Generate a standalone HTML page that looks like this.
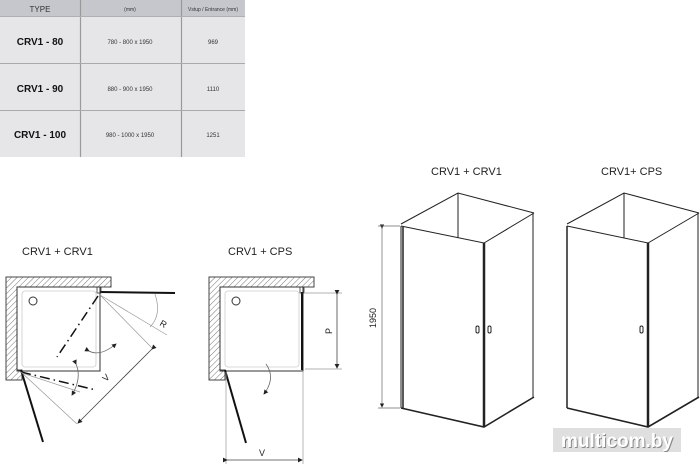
<!DOCTYPE html>
<html><head><style>
html,body{margin:0;padding:0;background:#fff;}
svg{display:block;}
text{font-family:"Liberation Sans",Arial,sans-serif;}
</style></head><body>
<svg width="700" height="464" viewBox="0 0 700 464" xmlns="http://www.w3.org/2000/svg">
<defs>
<pattern id="h" width="4" height="4" patternUnits="userSpaceOnUse" patternTransform="rotate(45)">
<rect width="4" height="4" fill="#fff"/><line x1="0" y1="0" x2="0" y2="4" stroke="#777" stroke-width="1"/>
</pattern>
<marker id="ar" markerWidth="6" markerHeight="6" refX="5" refY="3" orient="auto"><path d="M0,0 L6,3 L0,6z" fill="#222"/></marker>
</defs>
<!-- table -->
<rect x="0" y="0" width="245" height="157" fill="#e6e6e8"/>
<rect x="0" y="0" width="245" height="16" fill="#c5c7cd"/>
<g stroke="#9a9a9a" stroke-width="1.2">
<line x1="80.5" y1="0" x2="80.5" y2="157"/><line x1="181.5" y1="0" x2="181.5" y2="157"/>
</g>
<g stroke="#aaa" stroke-width="1">
<line x1="0" y1="63.5" x2="245" y2="63.5"/><line x1="0" y1="110.5" x2="245" y2="110.5"/><line x1="0" y1="16.5" x2="245" y2="16.5" stroke="#b0b0b4"/>
</g>
<g fill="#333" text-anchor="middle">
<text x="40" y="12" font-size="8">TYPE</text>
<text x="130" y="11" font-size="5">(mm)</text>
<text x="213" y="11" font-size="5">Vstup / Entrance (mm)</text>
<text x="40" y="45" font-size="10" font-weight="bold" fill="#111">CRV1 - 80</text>
<text x="40" y="92" font-size="10" font-weight="bold" fill="#111">CRV1 - 90</text>
<text x="40" y="138" font-size="10" font-weight="bold" fill="#111">CRV1 - 100</text>
<text x="130" y="44" font-size="6">780 - 800 x 1950</text>
<text x="130" y="91" font-size="6">880 - 900 x 1950</text>
<text x="130" y="137" font-size="6">980 - 1000 x 1950</text>
<text x="213" y="44" font-size="6">969</text>
<text x="213" y="91" font-size="6">1110</text>
<text x="213" y="137" font-size="6">1251</text>
</g>
<!-- plan labels -->
<text x="22" y="255" font-size="11" fill="#222">CRV1 + CRV1</text>
<text x="228" y="255" font-size="11" fill="#222">CRV1 + CPS</text>
<!-- plan 1 -->
<path d="M6,277 H111 V287 H17 V370 H22 V380 H6 Z" fill="url(#h)" stroke="#444" stroke-width="1"/>
<rect x="17" y="287" width="83" height="84" fill="none" stroke="#333" stroke-width="1"/>
<rect x="22" y="291" width="74" height="76" rx="3" fill="none" stroke="#ccc" stroke-width="0.8"/>
<circle cx="33" cy="301" r="4" fill="none" stroke="#333"/>
<line x1="100" y1="292" x2="175" y2="293" stroke="#111" stroke-width="2"/>
<rect x="97" y="287" width="4" height="6" fill="none" stroke="#333" stroke-width="0.8"/>
<line x1="21" y1="370" x2="43" y2="442" stroke="#111" stroke-width="2"/>
<g stroke="#111" stroke-width="1.5" stroke-dasharray="10,4,1.5,4">
<line x1="98" y1="296" x2="57" y2="357"/><line x1="21" y1="372" x2="96" y2="390"/>
</g>
<g stroke="#999" stroke-width="0.7" fill="none">
<line x1="100" y1="295" x2="167" y2="335"/><line x1="100" y1="295" x2="153" y2="349"/>
<line x1="21" y1="372" x2="77" y2="424"/><line x1="22" y1="373" x2="80" y2="392"/>
<path d="M155,294 Q162,315 150,327"/>
</g>
<line x1="152" y1="349" x2="78" y2="423" stroke="#444" stroke-width="0.8" marker-end="url(#ar)" marker-start="url(#ar)"/>
<path d="M89,351 Q100,357 116,344" fill="none" stroke="#666" stroke-width="0.8" marker-end="url(#ar)" marker-start="url(#ar)"/>
<path d="M76,364 Q82,378 72,395" fill="none" stroke="#666" stroke-width="0.8" marker-end="url(#ar)" marker-start="url(#ar)"/>
<text x="159" y="325" font-size="9" fill="#222" transform="rotate(30 159 325)">R</text>
<text x="106" y="382" font-size="9" fill="#222" transform="rotate(-45 106 382)">V</text>
<!-- plan 2 -->
<path d="M209,277 H314 V287 H220 V370 H225 V380 H209 Z" fill="url(#h)" stroke="#444" stroke-width="1"/>
<rect x="220" y="287" width="83" height="84" fill="none" stroke="#333" stroke-width="1"/>
<rect x="225" y="291" width="74" height="76" rx="3" fill="none" stroke="#ccc" stroke-width="0.8"/>
<circle cx="236" cy="301" r="4" fill="none" stroke="#333"/>
<line x1="302" y1="292" x2="302" y2="370" stroke="#111" stroke-width="2"/>
<rect x="300" y="287" width="4" height="6" fill="none" stroke="#333" stroke-width="0.8"/>
<line x1="225" y1="370" x2="246" y2="443" stroke="#111" stroke-width="2"/>
<g stroke="#999" stroke-width="0.7">
<line x1="226" y1="372" x2="226" y2="464"/><line x1="303" y1="372" x2="303" y2="464"/>
<line x1="305" y1="293" x2="342" y2="293"/><line x1="305" y1="369" x2="342" y2="369"/>
</g>
<line x1="227" y1="460" x2="302" y2="460" stroke="#444" stroke-width="0.8" marker-end="url(#ar)" marker-start="url(#ar)"/>
<line x1="337" y1="294" x2="337" y2="368" stroke="#444" stroke-width="0.8" marker-end="url(#ar)" marker-start="url(#ar)"/>
<path d="M266,364 Q276,378 264,394" fill="none" stroke="#666" stroke-width="0.8" marker-end="url(#ar)"/>
<text x="259" y="456" font-size="9" fill="#222">V</text>
<text x="330" y="336" font-size="9" fill="#222" transform="rotate(-90 330 334)">P</text>
<!-- 3D labels -->
<text x="431" y="175" font-size="11" fill="#222">CRV1 + CRV1</text>
<text x="601" y="175" font-size="11" fill="#222">CRV1+ CPS</text>
<!-- cube 1 -->
<g fill="none" stroke="#222" stroke-width="1">
<path d="M401,224 L458,193 L534,213"/>
<line x1="458" y1="193" x2="458" y2="238"/>
<path d="M401,226 L484,243 L534,213"/>
<line x1="401" y1="226" x2="401" y2="408"/>
<line x1="533" y1="213" x2="533" y2="397"/>
<line x1="484" y1="243" x2="484" y2="427" stroke-width="2.5"/>
<path d="M401,408 L484,427 L534,397" stroke-width="1.6"/>
<line x1="403" y1="227" x2="403" y2="408" stroke-width="1.5"/>
<rect x="476" y="326" width="3" height="7" rx="1.5"/><rect x="488" y="326" width="3" height="7" rx="1.5"/>
</g>
<g stroke="#666" stroke-width="0.7">
<line x1="382" y1="228" x2="382" y2="407" marker-end="url(#ar)" marker-start="url(#ar)"/>
<line x1="378" y1="226" x2="400" y2="226"/><line x1="378" y1="408" x2="400" y2="408"/>
</g>
<text x="376" y="318" font-size="9" fill="#222" text-anchor="middle" transform="rotate(-90 376 318)">1950</text>
<!-- cube 2 -->
<g fill="none" stroke="#222" stroke-width="1">
<path d="M567,224 L624,193 L699,213"/>
<line x1="624" y1="193" x2="624" y2="238"/>
<path d="M567,226 L648,243 L699,213"/>
<line x1="567" y1="226" x2="567" y2="408" stroke-width="1.5"/>
<line x1="698" y1="213" x2="698" y2="397"/>
<line x1="648" y1="243" x2="648" y2="427" stroke-width="2.5"/>
<path d="M567,408 L648,427 L699,397" stroke-width="1.6"/>
<rect x="640" y="326" width="3" height="7" rx="1.5"/>
</g>
<!-- watermark -->
<rect x="553" y="428" width="128" height="24" fill="#dcdcdc" opacity="0.9"/>
<text x="618" y="448" font-size="19" font-weight="bold" fill="#888" text-anchor="middle">multicom.by</text>
<text x="617" y="447" font-size="19" font-weight="bold" fill="#fff" text-anchor="middle">multicom.by</text>
</svg>
</body></html>
